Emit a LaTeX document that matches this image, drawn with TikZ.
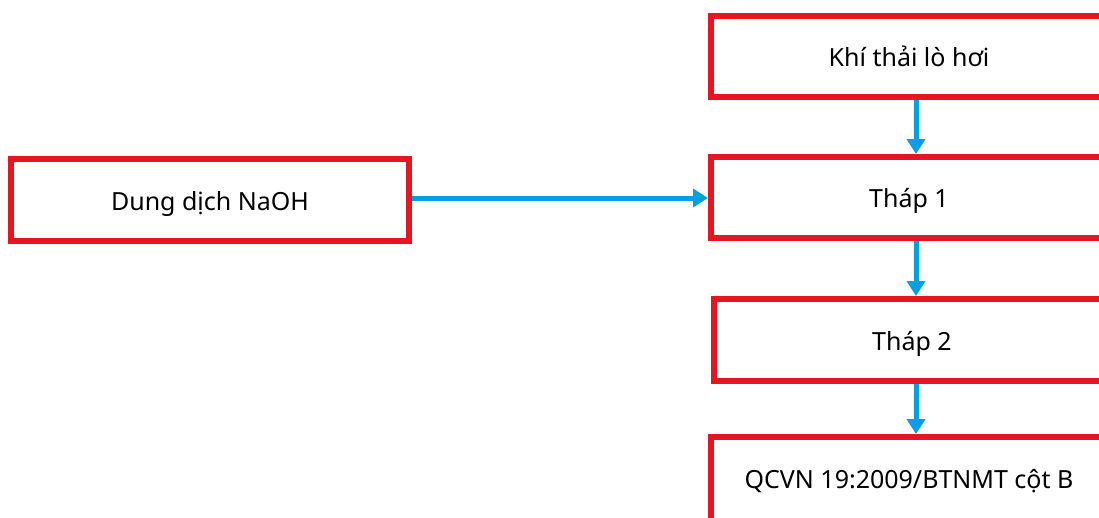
\documentclass[tikz,border=0pt]{standalone}
\usepackage{fontspec}
\setmainfont{Noto Sans}
\usetikzlibrary{arrows.meta}
\definecolor{boxred}{RGB}{229,22,34}
\definecolor{arrblue}{RGB}{0,160,227}
\tikzset{
  flowbox/.style={draw=boxred, line width=6pt, fill=white, rectangle, inner sep=0pt,
    minimum width=396pt, minimum height=81pt, text height=20pt, text depth=0pt,
    font=\fontsize{25}{30}\selectfont},
  flowarr/.style={draw=arrblue, line width=5pt, -{Triangle[width=18pt,length=15pt]}}
}
\begin{document}
\begin{tikzpicture}[x=1pt,y=-1pt]
\useasboundingbox (0,0) rectangle (1099,517);
\clip (0,0) rectangle (1099,517);
\fill[white] (0,0) rectangle (1099,517);
\node[flowbox] (khi) at (909,56.5) {Khí thải lò hơi};
\node[flowbox] (t1) at (909,197.5) {Tháp 1};
\node[flowbox, minimum height=82pt] (t2) at (912,340) {Tháp 2};
\node[flowbox, minimum height=100pt, text depth=18pt] (qc) at (909,487) {QCVN 19:2009/BTNMT cột B};
\node[flowbox, minimum width=398pt, minimum height=82pt] (dd) at (210,200) {Dung dịch NaOH};
\coordinate (ax) at (916,0);
\coordinate (ay) at (0,198);
\draw[flowarr] (khi.south -| ax) -- (t1.north -| ax);
\draw[flowarr] (t1.south -| ax) -- (t2.north -| ax);
\draw[flowarr] (t2.south -| ax) -- (qc.north -| ax);
\draw[flowarr] (dd.east |- ay) -- (t1.west |- ay);
\end{tikzpicture}
\end{document}
